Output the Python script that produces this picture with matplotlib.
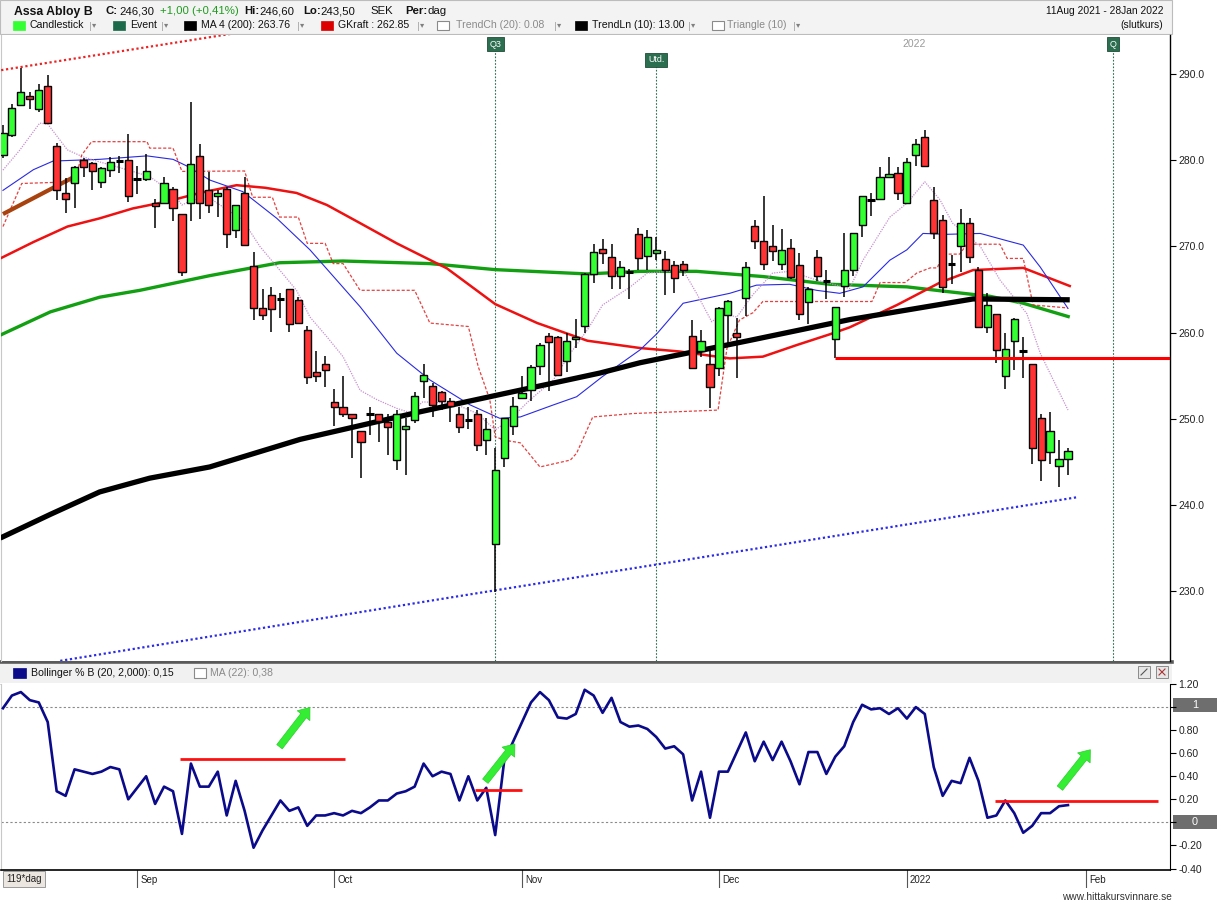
import matplotlib
matplotlib.use("Agg")
import matplotlib.pyplot as plt
import matplotlib.transforms as mtransforms
from matplotlib.patches import Rectangle

plt.rcParams['font.family'] = ['Liberation Sans', 'DejaVu Sans']

# ---------------- data ----------------
opens = [280.6, 282.9, 286.4, 287.4, 286.0, 288.6, 281.7, 276.2, 277.4, 280.0,
         279.7, 277.5, 278.9, 279.9, 280.0, 277.85, 277.8, 275.0, 275.0, 276.7,
         273.7, 275.0, 280.45, 276.5, 275.8, 276.6, 271.9, 276.15, 267.7, 262.9,
         264.3, 263.9, 265.0, 263.8, 260.3, 255.4, 256.4, 251.9, 251.3, 250.5,
         248.6, 250.5, 250.5, 249.6, 245.2, 248.8, 249.9, 254.4, 253.8, 253.1,
         252.05, 250.6, 249.9, 250.6, 247.5, 235.5, 245.4, 249.1, 252.4, 253.3,
         256.15, 259.6, 259.5, 256.7, 259.3, 260.8, 266.75, 269.65, 268.8, 266.6,
         267.0, 271.4, 268.9, 269.2, 268.5, 267.8, 267.9, 259.6, 257.9, 256.3,
         255.85, 262.0, 260.0, 264.0, 272.4, 270.6, 270.0, 268.0, 269.8, 267.8,
         263.6, 268.8, 266.0, 259.3, 265.4, 267.3, 272.45, 275.4, 275.45, 278.05,
         278.5, 275.0, 280.6, 282.7, 275.4, 273.05, 268.0, 270.1, 272.7, 267.2,
         260.7, 262.1, 254.9, 259.0, 257.9, 256.4, 250.05, 246.1, 244.5, 245.3]
highs = [284.1, 286.5, 290.7, 287.9, 288.8, 289.9, 282.0, 277.9, 279.3, 280.2,
         279.8, 279.2, 280.4, 280.5, 283.0, 279.3, 280.7, 275.5, 278.1, 276.9,
         273.7, 286.7, 281.9, 278.6, 276.5, 276.9, 274.8, 278.0, 269.4, 265.1,
         265.25, 264.55, 265.0, 264.1, 260.75, 257.85, 257.3, 253.5, 255.0, 250.5,
         248.6, 251.4, 250.5, 250.6, 251.0, 250.05, 253.1, 256.4, 254.1, 253.25,
         252.4, 251.4, 251.4, 251.0, 250.05, 246.6, 250.05, 252.55, 255.0, 256.2,
         258.8, 259.9, 259.6, 259.9, 261.6, 266.9, 270.3, 270.9, 270.3, 268.35,
         267.4, 272.1, 271.9, 271.05, 269.5, 268.35, 268.3, 261.5, 260.3, 257.8,
         263.0, 263.8, 261.65, 268.2, 273.1, 275.8, 272.5, 272.0, 270.9, 269.2,
         265.25, 269.6, 267.3, 263.0, 271.6, 271.5, 275.8, 276.15, 279.2, 280.4,
         279.2, 280.3, 282.5, 283.5, 276.85, 273.6, 269.0, 274.3, 273.25, 267.6,
         264.6, 262.1, 260.0, 261.65, 259.45, 256.4, 250.5, 250.75, 247.5, 246.6]
lows = [280.25, 282.7, 286.3, 286.0, 285.6, 284.2, 275.4, 273.9, 274.5, 278.1,
        276.5, 276.8, 278.0, 278.5, 275.2, 276.1, 277.6, 272.1, 274.9, 272.9,
        266.6, 273.0, 273.2, 273.9, 273.4, 269.8, 271.0, 270.0, 261.5, 261.45,
        260.1, 261.7, 260.1, 261.05, 254.0, 254.3, 253.7, 249.1, 250.2, 245.4,
        243.1, 248.1, 247.3, 245.8, 244.0, 243.5, 249.5, 252.4, 250.2, 251.0,
        249.65, 248.3, 248.8, 246.2, 245.8, 229.9, 244.4, 248.1, 252.4, 252.0,
        255.1, 253.25, 255.1, 255.45, 258.2, 259.9, 265.8, 268.0, 265.1, 265.1,
        263.85, 267.25, 267.25, 268.4, 264.4, 264.55, 266.6, 255.85, 257.2, 251.2,
        254.9, 258.4, 254.7, 261.9, 269.65, 267.3, 268.35, 267.3, 266.2, 261.5,
        261.0, 266.0, 263.85, 257.0, 264.15, 266.6, 271.05, 273.55, 275.45, 278.05,
        275.4, 275.0, 279.35, 279.25, 270.85, 264.55, 265.6, 267.05, 268.1, 260.6,
        259.9, 256.5, 253.5, 255.65, 254.75, 244.7, 242.8, 244.8, 242.1, 243.5]
closes = [283.15, 286.1, 287.9, 287.1, 288.2, 284.3, 276.5, 275.5, 279.2, 279.2,
          278.8, 279.1, 279.8, 279.9, 275.8, 277.85, 278.8, 274.7, 277.4, 274.5,
          267.0, 279.6, 275.0, 274.8, 276.2, 271.4, 274.8, 270.2, 262.8, 262.0,
          262.7, 263.9, 261.0, 261.1, 254.8, 254.9, 255.6, 251.3, 250.6, 250.05,
          247.3, 250.5, 249.7, 249.0, 250.6, 249.15, 252.6, 255.1, 251.55, 252.0,
          251.5, 249.0, 249.9, 246.9, 248.8, 244.05, 250.05, 251.5, 253.0, 256.0,
          258.5, 258.9, 255.1, 259.0, 259.5, 266.8, 269.3, 269.2, 266.6, 267.6,
          267.0, 268.6, 271.05, 269.6, 267.3, 266.3, 267.3, 255.85, 259.0, 253.7,
          262.8, 263.7, 259.45, 267.6, 270.6, 267.9, 269.5, 269.6, 266.4, 262.2,
          265.0, 266.6, 266.0, 263.0, 267.2, 271.5, 275.8, 275.4, 278.0, 278.4,
          276.15, 279.8, 281.85, 279.35, 271.6, 265.25, 268.0, 272.7, 268.8, 260.6,
          263.15, 258.0, 258.1, 261.55, 257.9, 246.6, 245.2, 248.6, 245.3, 246.3]

# indicator lines: (day index, value) points
ma200_idx = [-0.3, 5.3, 10.8, 16.4, 23.1, 33.2, 46.6, 55.5, 66.7, 71.2, 83.5, 94.6, 108.4, 119.2]
ma200_val = [236.15, 238.9, 241.5, 243.1, 244.4, 247.6, 250.8, 252.8, 255.3, 256.5, 259.1, 261.5, 263.9, 263.8]

green_idx = [-0.3, 5.3, 10.8, 15.3, 23.1, 30.9, 38.0, 47.7, 55.0, 65.3, 71.2, 77.5, 84.9, 92.4, 101.0, 104.7, 110.3, 114.0, 119.2]
green_val = [259.7, 262.4, 264.1, 264.9, 266.6, 268.1, 268.3, 268.0, 267.3, 266.8, 267.1, 267.1, 266.5, 265.6, 265.3, 264.85, 264.2, 263.4, 261.8]

redma_idx = [-0.3, 3.4, 7.2, 10.8, 14.5, 18.3, 22.0, 26.1, 29.3, 32.8, 36.2, 39.9, 44.0, 46.6, 49.6, 55.0, 59.7, 65.3, 71.2, 75.6, 81.2, 84.9, 88.7, 92.4, 94.6, 99.9, 104.7, 108.4, 114.0, 119.2]
redma_val = [268.6, 270.5, 272.3, 273.25, 274.4, 275.2, 276.2, 277.1, 276.8, 276.2, 274.8, 272.7, 270.35, 269.0, 267.45, 263.3, 261.1, 259.05, 258.2, 257.8, 257.0, 257.2, 258.55, 259.8, 260.6, 263.2, 265.8, 267.25, 267.5, 265.4]

blue_idx = [0, 3.4, 5.6, 10.8, 16.1, 19.0, 20.6, 23.1, 26.8, 30.6, 34.3, 39.9, 44.0, 47.7, 52.2, 55.5, 57.8, 61.5, 64.1, 67.0, 71.2, 73.1, 76.0, 81.2, 84.2, 87.9, 90.9, 93.5, 96.1, 99.1, 101.0, 102.8, 105.5, 109.2, 112.2, 114.0, 115.9, 119.0]
blue_val = [276.5, 278.9, 279.9, 280.1, 280.5, 280.1, 279.3, 277.7, 276.35, 273.25, 269.6, 263.0, 257.6, 254.5, 251.6, 250.05, 250.2, 251.6, 252.55, 254.9, 258.0, 259.9, 263.4, 264.55, 265.5, 265.6, 264.9, 264.55, 265.3, 268.4, 269.6, 271.5, 271.4, 271.5, 270.65, 270.15, 267.6, 262.8]

purple_idx = [0, 1.9, 4.1, 5.0, 7.2, 8.9, 10.8, 14.5, 16.4, 19.0, 20.0, 21.2, 23.1, 26.8, 28.7, 30.6, 32.8, 34.3, 36.2, 38.0, 39.9, 41.8, 44.0, 45.5, 46.9, 50.3, 53.0, 55.0, 56.6, 58.9, 61.5, 63.4, 65.3, 67.0, 70.1, 72.0, 76.0, 77.5, 79.2, 80.4, 82.0, 83.8, 86.0, 87.9, 90.9, 94.6, 96.1, 99.1, 101.0, 103.0, 104.7, 106.1, 109.2, 111.4, 114.4, 115.9, 119.0]
purple_val = [278.85, 281.2, 284.3, 284.2, 281.2, 280.4, 279.8, 278.7, 278.1, 276.15, 274.8, 275.4, 275.6, 273.05, 270.0, 267.65, 264.9, 261.8, 259.5, 257.2, 253.3, 252.2, 251.2, 250.7, 251.95, 251.8, 250.6, 248.7, 249.85, 252.2, 254.5, 257.6, 260.3, 263.2, 265.3, 266.9, 267.25, 264.55, 261.25, 262.2, 261.8, 264.4, 266.9, 267.1, 266.1, 265.1, 268.4, 273.4, 275.0, 277.5, 275.4, 272.7, 270.0, 266.1, 262.2, 257.6, 251.0]

trail_idx = [0, 2.1, 8.0, 8.8, 9.9, 16.1, 16.4, 19.0, 20.0, 27.0, 27.9, 30.1, 30.9, 33.0, 34.0, 36.0, 36.9, 38.0, 39.9, 46.0, 47.7, 52.0, 53.1, 54.4, 55.0, 56.1, 57.8, 60.0, 63.4, 64.1, 65.9, 70.4, 79.9, 80.9, 82.3, 83.8, 84.9, 97.1, 98.0, 100.8, 102.1, 103.6, 104.4, 105.0, 106.9, 107.7, 111.4, 112.2, 114.0, 115.1, 119.0]
trail_val = [272.3, 277.3, 277.5, 280.6, 282.15, 282.15, 281.4, 281.4, 278.7, 278.75, 275.7, 275.7, 273.4, 273.4, 270.35, 270.35, 268.0, 268.0, 264.9, 264.9, 261.1, 260.7, 256.05, 252.2, 247.9, 247.5, 247.2, 244.4, 245.2, 246.0, 250.2, 250.6, 251.0, 258.2, 261.45, 262.3, 263.6, 263.6, 265.8, 265.8, 266.9, 267.5, 267.5, 269.1, 269.1, 270.25, 270.25, 268.6, 268.6, 263.2, 262.85]

trendln_idx = [0.0, 8.2]
trendln_val = [273.75, 278.2]

upper_dot_idx = [-0.2, 26.0]
upper_dot_val = [290.45, 294.75]
lower_dot_idx = [6.4, 48.8, 120.1]
lower_dot_val = [221.9, 229.05, 240.9]

support_idx = [93, 130.4]
support_val = [257.0, 257.0]

pctb = [0.99, 1.10, 1.13, 1.06, 1.04, 0.87, 0.27, 0.23, 0.46, 0.44,
        0.42, 0.44, 0.48, 0.46, 0.20, 0.30, 0.40, 0.16, 0.31, 0.27,
        -0.10, 0.51, 0.31, 0.31, 0.44, 0.06, 0.36, 0.10, -0.22, -0.07,
        0.06, 0.19, 0.10, 0.13, -0.03, 0.06, 0.06, 0.08, 0.06, 0.10,
        0.08, 0.13, 0.19, 0.19, 0.25, 0.27, 0.31, 0.51, 0.40, 0.44,
        0.42, 0.19, 0.40, 0.19, 0.30, -0.11, 0.53, 0.70, 0.87, 1.04,
        1.13, 1.06, 0.91, 0.90, 0.94, 1.15, 1.10, 0.95, 1.08, 0.87,
        0.83, 0.84, 0.81, 0.74, 0.64, 0.66, 0.59, 0.19, 0.44, 0.04,
        0.44, 0.44, 0.61, 0.78, 0.53, 0.70, 0.54, 0.70, 0.53, 0.33,
        0.61, 0.61, 0.42, 0.57, 0.66, 0.87, 1.02, 0.98, 0.99, 0.94,
        0.99, 0.90, 1.00, 0.94, 0.48, 0.23, 0.36, 0.34, 0.56, 0.36,
        0.04, 0.06, 0.19, 0.08, -0.09, -0.03, 0.08, 0.08, 0.14, 0.15]

pb_lines = [(19.8, 38.2, 0.553), (52.7, 58.0, 0.28), (110.8, 129.1, 0.185)]
pb_arrows = [((30.9, 0.656), (34.3, 0.997)), ((53.9, 0.357), (57.2, 0.68)), ((118.1, 0.297), (121.5, 0.63))]

month_idx = [15, 37, 58, 80, 101, 121]
month_labels = ['Sep', 'Oct', 'Nov', 'Dec', '2022', 'Feb']
price_ticks = [230, 240, 250, 260, 270, 280, 290]
pb_ticks = [-0.4, -0.2, 0.2, 0.4, 0.6, 0.8, 1.2]
event_idx = [55, 73, 124]
event_labels = ['Q3', 'Utd.', 'Q']

# ---------------- figure ----------------
W, H = 1218, 902
fig = plt.figure(figsize=(W / 100, H / 100), dpi=100)
fig.patch.set_facecolor('white')

def fx(px):
    return px / W

def fy(py):
    return 1 - py / H

XMIN, XMAX = -0.22, 130.4
ov = fig.add_axes([0, 0, 1, 1], zorder=-1)
ov.set_xlim(0, W)
ov.set_ylim(H, 0)
ov.axis('off')
ax = fig.add_axes([fx(1), fy(661), fx(1169), (661 - 35) / H])
axb = fig.add_axes([fx(1), fy(870), fx(1169), (870 - 684) / H])
axd = fig.add_axes([fx(1), fy(888), fx(1169), (888 - 870) / H])
axd.patch.set_alpha(0)

# ---- main price panel ----
ax.set_xlim(XMIN, XMAX)
ax.set_ylim(221.88, 294.53)
n = len(closes)
idx = list(range(n))
for i in idx:
    o, h, l, c = opens[i], highs[i], lows[i], closes[i]
    ax.vlines(i, l, h, color='black', lw=1.1, zorder=6)
    if abs(c - o) < 1e-9:
        ax.hlines(c, i - 0.42, i + 0.42, color='black', lw=2.2, zorder=7)
    else:
        col = '#33ff33' if c > o else '#ff3333'
        ax.bar(i, abs(c - o), bottom=min(o, c), width=0.8, color=col,
               edgecolor='black', linewidth=1.0, zorder=7)

ax.plot(green_idx, green_val, color='#12a012', lw=2.4, zorder=3, solid_capstyle='butt')
ax.plot(redma_idx, redma_val, color='#ee1111', lw=1.8, zorder=3)
ax.plot(ma200_idx, ma200_val, color='black', lw=3.8, zorder=4, solid_capstyle='butt')
ax.plot(blue_idx, blue_val, color='#2a2ae0', lw=0.8, zorder=3)
ax.plot(purple_idx, purple_val, color='#c890d0', lw=0.9, ls=(0, (1, 1)), zorder=3)
ax.plot(trail_idx, trail_val, color='#e02020', lw=0.9, ls=(0, (2.5, 1.5)), zorder=3, alpha=0.85)
ax.plot(trendln_idx, trendln_val, color='#a8420e', lw=3.0, zorder=5, solid_capstyle='butt')
ax.plot(upper_dot_idx, upper_dot_val, color='#ee2222', lw=1.6, ls=(0, (1, 1.2)), zorder=3)
ax.plot(lower_dot_idx, lower_dot_val, color='#2a2ae8', lw=1.6, ls=(0, (1, 1.2)), zorder=3)
ax.plot(support_idx, support_val, color='#ff0000', lw=2.2, zorder=8, solid_capstyle='butt')

trans = mtransforms.blended_transform_factory(ax.transData, ax.transAxes)
label_y = [0.9856, 0.9601, 0.9856]
for ei, el, ly in zip(event_idx, event_labels, label_y):
    ax.plot([ei, ei], [0, ly - 0.01], transform=trans, color='#2f6f55', lw=0.8,
            ls=(0, (1.5, 1.5)), zorder=2)
    ax.text(ei, ly, el, transform=trans, ha='center', va='center', fontsize=6.4,
            color='white', zorder=9,
            bbox=dict(boxstyle='square,pad=0.3', fc='#2c6e50', ec='#1d4d36', lw=0.6))
ax.text(101.8, 0.985, '2022', transform=trans, ha='center', va='center',
        fontsize=7.5, color='#9a9a9a')

ax.yaxis.tick_right()
ax.set_yticks(price_ticks)
ax.set_yticklabels([f'{v:.1f}' for v in price_ticks])
ax.tick_params(axis='y', labelsize=7.5, length=4, width=0.8, colors='black',
               labelcolor='#222222', pad=2)
ax.set_xticks([])
for s in ['top', 'bottom']:
    ax.spines[s].set_visible(False)
ax.spines['left'].set_color('#c8c8c8')
ax.spines['right'].set_color('black')
ax.spines['right'].set_linewidth(1.0)

# ---- Bollinger %B panel ----
axb.set_xlim(XMIN, XMAX)
axb.set_ylim(-0.413, 1.177)
axb.plot(idx, pctb, color='#0a0a8a', lw=1.9, zorder=4)
for v in (0, 1):
    axb.axhline(v, color='#8a8a8a', lw=0.8, ls=(0, (2, 2)), zorder=1)
for x0, x1, v in pb_lines:
    axb.plot([x0, x1], [v, v], color='#ff1010', lw=2.0, zorder=5, solid_capstyle='butt')
for (xs, ys), (xe, ye) in pb_arrows:
    axb.annotate('', xy=(xe, ye), xytext=(xs, ys),
                 arrowprops=dict(arrowstyle='simple,head_length=0.75,head_width=1.15,tail_width=0.5',
                                 fc='#33ee33', ec='#2ccc2c', lw=0.5,
                                 mutation_scale=10, shrinkA=0, shrinkB=0), zorder=6)
axb.yaxis.tick_right()
axb.set_yticks(pb_ticks + [0, 1])
axb.set_yticklabels([f'{v:.2f}' for v in pb_ticks] + ['', ''])
axb.tick_params(axis='y', labelsize=7.5, length=4, width=0.8, labelcolor='#222222', pad=2)
axb.set_xticks([])
for s in ['top', 'bottom']:
    axb.spines[s].set_visible(False)
axb.spines['left'].set_color('#c8c8c8')
axb.spines['right'].set_color('black')

# ---- date band ----
axd.set_xlim(XMIN, XMAX)
axd.set_ylim(0, 1)
axd.set_xticks([])
axd.set_yticks([])
for s in ['left', 'right', 'bottom']:
    axd.spines[s].set_visible(False)
axd.spines['top'].set_color('black')
axd.spines['top'].set_linewidth(1.2)
for mi, ml in zip(month_idx, month_labels):
    axd.axvline(mi, color='#555555', lw=0.8)
    axd.text(mi + 0.35, 0.45, ml, fontsize=7, va='center', ha='left', color='#222222')
axd.plot([XMIN, XMAX], [0.02, 0.02], color='#888888', lw=0.6)
axd.add_patch(Rectangle((0.05, 0.1), 0.84, 0.8, transform=axd.transAxes, fc='none', ec='none'))

# ---- overlay: header, separators, legend ----
ov.add_patch(Rectangle((0, 0), 1172, 34, fc='#f3f3f3', ec='#bcbcbc', lw=0.8))
ov.plot([0, 1172], [662, 662], color='#5a5a5a', lw=2.6)
ov.add_patch(Rectangle((0, 663), 1172, 20, fc='#f1f1f1', ec='none'))
ov.plot([0, 1172], [683.5, 683.5], color='#d0d0d0', lw=0.6)

fs = 8.2
r1 = 11.5
ov.text(14, r1, 'Assa Abloy B', fontsize=8.8, weight='bold', va='center', color='#111111')
ov.text(106, r1, 'C:', fontsize=fs, weight='bold', va='center', color='#111111')
ov.text(119, r1, '246,30', fontsize=fs, va='center', color='#111111')
ov.text(160, r1, '+1,00 (+0,41%)', fontsize=fs, va='center', color='#1f9b1f')
ov.text(244, r1, 'Hi:', fontsize=fs, weight='bold', va='center', color='#111111')
ov.text(259, r1, '246,60', fontsize=fs, va='center', color='#111111')
ov.text(303, r1, 'Lo:', fontsize=fs, weight='bold', va='center', color='#111111')
ov.text(320, r1, '243,50', fontsize=fs, va='center', color='#111111')
ov.text(370, r1, 'SEK', fontsize=fs, va='center', color='#111111')
ov.text(405, r1, 'Per:', fontsize=fs, weight='bold', va='center', color='#111111')
ov.text(428, r1, 'dag', fontsize=fs, va='center', color='#111111')
ov.text(1163, r1, '11Aug 2021 - 28Jan 2022', fontsize=7.4, va='center', ha='right', color='#111111')
ov.text(1163, 25, '(slutkurs)', fontsize=7.4, va='center', ha='right', color='#111111')

r2 = 25.5
legend_items = [
    (13, '#33ff33', 'Candlestick', '#111111', 30, 90),
    (113, '#1b6a4a', 'Event', '#111111', 130, 162),
    (184, '#000000', 'MA 4 (200): 263.76', '#111111', 201, 298),
    (321, '#dd0000', 'GKraft : 262.85', '#111111', 338, 418),
    (437, None, 'TrendCh (20): 0.08', '#8a8a8a', 456, 555),
    (575, '#000000', 'TrendLn (10): 13.00', '#111111', 592, 689),
    (712, None, 'Triangle (10)', '#8a8a8a', 727, 794),
]
for sx, col, lab, tcol, tx, dx in legend_items:
    if col is None:
        ov.add_patch(Rectangle((sx, r2 - 4.5), 12, 9, fc='white', ec='#8a8a8a', lw=0.8))
    else:
        ov.add_patch(Rectangle((sx, r2 - 4.5), 12, 9, fc=col, ec=col, lw=0.5))
    ov.text(tx, r2, lab, fontsize=7.6, va='center', color=tcol)
    ov.plot([dx, dx], [r2 - 4, r2 + 4], color='#b0b0b0', lw=0.7)
    ov.text(dx + 2, r2 + 0.5, '▾', fontsize=6, va='center', color='#808080')

r3 = 673
ov.add_patch(Rectangle((13, r3 - 5), 13, 10, fc='#0a0a8a', ec='#0a0a8a', lw=0.5))
ov.text(31, r3, 'Bollinger % B (20, 2,000): 0,15', fontsize=7.6, va='center', color='#111111')
ov.add_patch(Rectangle((194, r3 - 5), 12, 10, fc='white', ec='#8a8a8a', lw=0.8))
ov.text(210, r3, 'MA (22): 0,38', fontsize=7.6, va='center', color='#8a8a8a')
for bx in (1138, 1156):
    ov.add_patch(Rectangle((bx, 666), 12, 12, fc='#e6e6e6', ec='#8a8a8a', lw=0.7))
ov.plot([1141, 1147], [675, 669], color='#555555', lw=0.8)
ov.plot([1159, 1165], [669, 675], color='#aa3333', lw=0.8)
ov.plot([1159, 1165], [675, 669], color='#aa3333', lw=0.8)

for ly, lab in ((705, '1'), (822, '0')):
    ov.add_patch(Rectangle((1173, ly - 7), 44, 14, fc='#6e6e6e', ec='none'))
    ov.text(1195, ly, lab, fontsize=7.8, va='center', ha='center', color='white')

ov.text(1172, 897, 'www.hittakursvinnare.se', fontsize=7.3, va='center', ha='right', color='#333333')

# "119*dag" box drawn on top of the date band
fig.text(fx(6), fy(879), '119*dag', fontsize=7, va='center', ha='left', color='#222222',
         bbox=dict(boxstyle='square,pad=0.35', fc='#ebe6e0', ec='#9a9a9a', lw=0.7), zorder=20)

fig.savefig('out.png', dpi=100, facecolor='white')
